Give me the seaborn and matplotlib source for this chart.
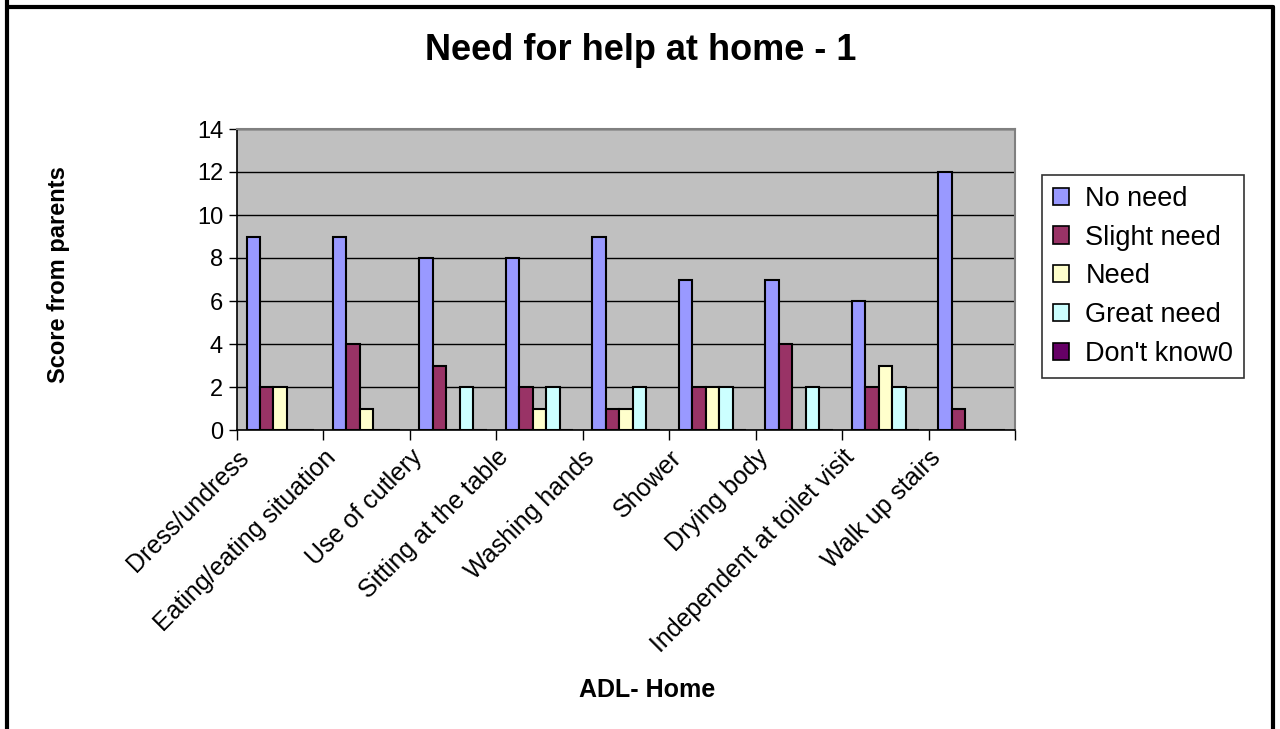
import matplotlib
matplotlib.use("Agg")
import matplotlib.pyplot as plt
import seaborn as sns
import pandas as pd
from matplotlib.patches import Patch
from matplotlib.lines import Line2D

# ADL activities at home
activities = [
    "Dress/undress",
    "Eating/eating situation",
    "Use of cutlery",
    "Sitting at the table",
    "Washing hands",
    "Shower",
    "Drying body",
    "Independent at toilet visit",
    "Walk up stairs",
]
levels = ["No need", "Slight need", "Need", "Great need", "Don't know0"]

no_need = [9, 9, 8, 8, 9, 7, 7, 6, 12]
slight_need = [2, 4, 3, 2, 1, 2, 4, 2, 1]
need = [2, 1, 0, 1, 1, 2, 0, 3, 0]
great_need = [0, 0, 2, 2, 2, 2, 2, 2, 0]
dont_know = [0, 0, 0, 0, 0, 0, 0, 0, 0]

colors = ["#9999FF", "#993366", "#FFFFCC", "#CCFFFF", "#660066"]

rows = []
for lvl, vals in zip(levels, [no_need, slight_need, need, great_need, dont_know]):
    for act, v in zip(activities, vals):
        rows.append({"activity": act, "level": lvl, "score": v})
df = pd.DataFrame(rows)

sns.set_style("white")
plt.rcParams["font.family"] = ["Liberation Sans", "DejaVu Sans"]
plt.rcParams.update({
    "text.color": "black",
    "axes.labelcolor": "black",
    "xtick.color": "black",
    "ytick.color": "black",
})

fig = plt.figure(figsize=(12.8, 7.29), dpi=100)
ax = fig.add_axes([237 / 1280, 1 - 430 / 729, (1015 - 237) / 1280, (430 - 129) / 729])

sns.barplot(
    data=df, x="activity", y="score", hue="level",
    order=activities, hue_order=levels, palette=colors,
    width=0.78, gap=0, edgecolor="black", linewidth=1.5,
    saturation=1, legend=False, ax=ax, zorder=3,
)

ax.set_facecolor("#C0C0C0")
ax.set_ylim(0, 14)
ax.set_xlim(-0.5, len(activities) - 0.5)
ax.set_yticks(range(0, 15, 2))
ax.yaxis.grid(True, color="black", linewidth=1.0, zorder=0)
ax.set_axisbelow(True)
ax.tick_params(axis="y", labelsize=17, length=6, width=1, direction="out", left=True, pad=4)

# Category labels sit on the category boundaries
bounds = [i - 0.5 for i in range(len(activities) + 1)]
ax.set_xticks(bounds)
ax.set_xticklabels(activities + [""], rotation=45, ha="right", va="top",
                   rotation_mode="anchor", fontsize=18)
ax.tick_params(axis="x", length=7, width=1, direction="out", bottom=True, pad=4)

for side in ["left", "bottom"]:
    ax.spines[side].set_color("black")
    ax.spines[side].set_linewidth(1.2)
for side in ["top", "right"]:
    ax.spines[side].set_visible(True)
    ax.spines[side].set_color("#808080")
    ax.spines[side].set_linewidth(1.5)

ax.set_xlabel("")
ax.set_ylabel("")

fig.text(641 / 1280, 1 - 50 / 729, "Need for help at home - 1",
         ha="center", va="center", fontsize=26, fontweight="bold")
fig.text(647 / 1280, 1 - 690 / 729, "ADL- Home",
         ha="center", va="center", fontsize=18, fontweight="bold")
fig.text(58 / 1280, 1 - 275 / 729, "Score from parents",
         ha="center", va="center", rotation=90, fontsize=17, fontweight="bold")

handles = [Patch(facecolor=c, edgecolor="black", linewidth=1.2) for c in colors]
leg = fig.legend(handles, levels, loc="upper left",
                 bbox_to_anchor=(1042 / 1280, 1 - 175 / 729),
                 fontsize=19.5, frameon=True, fancybox=False,
                 handlelength=0.6, handleheight=0.6, handletextpad=0.6,
                 labelspacing=0.47, borderpad=0.4, borderaxespad=0)
leg.get_frame().set_edgecolor("black")
leg.get_frame().set_linewidth(1.2)

# Outer chart border (left, top, right)
for xs, ys in [([7, 7], [0, 729]), ([7, 1273], [7, 7]), ([1273, 1273], [7, 729])]:
    fig.add_artist(Line2D([x / 1280 for x in xs], [1 - y / 729 for y in ys],
                          color="black", linewidth=3, transform=fig.transFigure))

fig.savefig("out.png", dpi=100, facecolor="white")
